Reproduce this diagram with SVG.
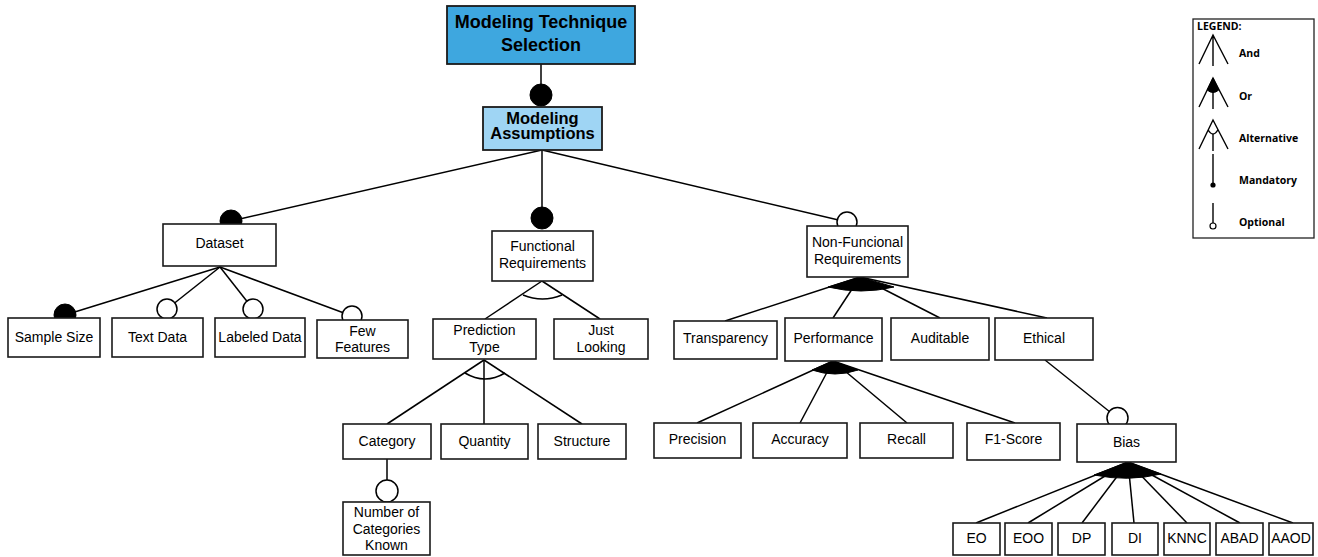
<svg xmlns="http://www.w3.org/2000/svg" width="1318" height="557" viewBox="0 0 1318 557">
<style>
.box{fill:#fff;stroke:#1a1a1a;stroke-width:1.6}
.ln{stroke:#000;stroke-width:1.5;fill:none}
.t{font-family:"Liberation Sans",Arial,sans-serif;font-size:14px;text-anchor:middle;fill:#000}
.tb{font-family:"Liberation Sans",Arial,sans-serif;font-weight:bold;text-anchor:middle;fill:#000}
.mand{fill:#000;stroke:#000;stroke-width:1}
.opt{fill:#fff;stroke:#000;stroke-width:1.5}
.sec{fill:#000;stroke:#000;stroke-width:1}
.lg{font-family:"Open Sans","Liberation Sans",sans-serif;font-weight:bold;font-size:10.5px;fill:#000}
.lgl{stroke:#000;stroke-width:1.4;fill:none}
</style>
<rect width="1318" height="557" fill="#fff"/>
<g id="connectors">
<line class="ln" x1="541" y1="64" x2="541" y2="95"/>
<line class="ln" x1="542" y1="150" x2="231" y2="221"/>
<line class="ln" x1="542" y1="150" x2="542" y2="218"/>
<line class="ln" x1="542" y1="150" x2="847" y2="222"/>
<line class="ln" x1="220" y1="267" x2="65" y2="315"/>
<line class="ln" x1="220" y1="267" x2="167" y2="309"/>
<line class="ln" x1="220" y1="267" x2="253" y2="309"/>
<line class="ln" x1="220" y1="267" x2="352" y2="316"/>
<line class="ln" x1="542" y1="281" x2="485" y2="319"/>
<line class="ln" x1="542" y1="281" x2="600" y2="319"/>
<path class="ln" stroke-width="1.2" d="M523,295 Q542.5,303 562,295"/>
<line class="ln" x1="484" y1="360" x2="387" y2="424"/>
<line class="ln" x1="484" y1="360" x2="484" y2="424"/>
<line class="ln" x1="484" y1="360" x2="582" y2="424"/>
<path class="ln" stroke-width="1.2" d="M465,373 Q485,385 505,373"/>
<line class="ln" x1="387" y1="459" x2="387" y2="491"/>
<line class="ln" x1="860" y1="277" x2="725" y2="321"/>
<line class="ln" x1="860" y1="277" x2="833" y2="318"/>
<line class="ln" x1="860" y1="277" x2="940" y2="318"/>
<line class="ln" x1="860" y1="277" x2="1047" y2="318"/>
<path class="sec" d="M860,277 L828,287 Q861,295 894,287 Z"/>
<line class="ln" x1="833" y1="361" x2="697" y2="423"/>
<line class="ln" x1="833" y1="361" x2="800" y2="423"/>
<line class="ln" x1="833" y1="361" x2="907" y2="423"/>
<line class="ln" x1="833" y1="361" x2="1015" y2="423"/>
<path class="sec" d="M833,361 L812,370 Q835,378 858,370 Z"/>
<line class="ln" x1="1045" y1="360" x2="1117.5" y2="418"/>
<line class="ln" x1="1128" y1="462" x2="976" y2="523"/>
<line class="ln" x1="1128" y1="462" x2="1028" y2="523"/>
<line class="ln" x1="1128" y1="462" x2="1082" y2="523"/>
<line class="ln" x1="1128" y1="462" x2="1134" y2="523"/>
<line class="ln" x1="1128" y1="462" x2="1187" y2="523"/>
<line class="ln" x1="1128" y1="462" x2="1240" y2="523"/>
<line class="ln" x1="1128" y1="462" x2="1293" y2="523"/>
<path class="sec" d="M1128,462 L1094,475 Q1128,482 1161,474 Z"/>
<circle class="mand" cx="541" cy="95" r="11"/>
<circle class="mand" cx="231" cy="221" r="11"/>
<circle class="mand" cx="542" cy="218" r="11"/>
<circle class="opt" cx="847" cy="222" r="10"/>
<circle class="mand" cx="65" cy="315" r="11"/>
<circle class="opt" cx="167" cy="309" r="10"/>
<circle class="opt" cx="253" cy="309" r="10"/>
<circle class="opt" cx="352" cy="316" r="10"/>
<circle class="opt" cx="387" cy="491" r="11"/>
<circle class="opt" cx="1117.5" cy="418" r="10.5"/>
</g>
<g id="root"><rect x="447" y="6" width="188" height="58" fill="#3ea7df" stroke="#1a1a1a" stroke-width="1.8"/><text class="tb" font-size="18" x="541" y="28">Modeling Technique</text><text class="tb" font-size="18" x="541" y="51">Selection</text></g>
<g id="assumptions"><rect x="483" y="107" width="119" height="43" fill="#9fd5f4" stroke="#1a1a1a" stroke-width="1.8"/><text class="tb" font-size="16.5" x="542.5" y="124">Modeling</text><text class="tb" font-size="16.5" x="542.5" y="139">Assumptions</text></g>
<g id="dataset"><rect class="box" x="163" y="224" width="113" height="42"/><text class="t" x="219.5" y="248">Dataset</text></g>
<g id="functional"><rect class="box" x="492" y="231" width="101" height="50"/><text class="t" x="542.5" y="251">Functional</text><text class="t" x="542.5" y="268">Requirements</text></g>
<g id="nonfunctional"><rect class="box" x="807" y="226" width="101" height="51"/><text class="t" x="857.5" y="247">Non-Funcional</text><text class="t" x="857.5" y="264">Requirements</text></g>
<g id="samplesize"><rect class="box" x="8" y="318" width="92" height="39"/><text class="t" x="54" y="342">Sample Size</text></g>
<g id="textdata"><rect class="box" x="112" y="318" width="91" height="39"/><text class="t" x="157.5" y="342">Text Data</text></g>
<g id="labeleddata"><rect class="box" x="215" y="318" width="90" height="39"/><text class="t" x="260" y="342">Labeled Data</text></g>
<g id="fewfeatures"><rect class="box" x="317" y="320" width="91" height="38"/><text class="t" x="362.5" y="336">Few</text><text class="t" x="362.5" y="352">Features</text></g>
<g id="predictiontype"><rect class="box" x="433" y="319" width="103" height="40"/><text class="t" x="484.5" y="335">Prediction</text><text class="t" x="484.5" y="352">Type</text></g>
<g id="justlooking"><rect class="box" x="554" y="319" width="94" height="40"/><text class="t" x="601" y="335">Just</text><text class="t" x="601" y="352">Looking</text></g>
<g id="category"><rect class="box" x="343" y="424" width="88" height="35"/><text class="t" x="387" y="446">Category</text></g>
<g id="quantity"><rect class="box" x="441" y="424" width="87" height="35"/><text class="t" x="484.5" y="446">Quantity</text></g>
<g id="structure"><rect class="box" x="538" y="424" width="88" height="35"/><text class="t" x="582" y="446">Structure</text></g>
<g id="numcategories"><rect class="box" x="343" y="502" width="87" height="53"/><text class="t" x="386.5" y="517">Number of</text><text class="t" x="386.5" y="534">Categories</text><text class="t" x="386.5" y="550">Known</text></g>
<g id="transparency"><rect class="box" x="674" y="321" width="103" height="38"/><text class="t" x="725.5" y="343">Transparency</text></g>
<g id="performance"><rect class="box" x="785" y="318" width="97" height="43"/><text class="t" x="833.5" y="343">Performance</text></g>
<g id="auditable"><rect class="box" x="891" y="318" width="98" height="42"/><text class="t" x="940" y="343">Auditable</text></g>
<g id="ethical"><rect class="box" x="995" y="318" width="98" height="42"/><text class="t" x="1044" y="343">Ethical</text></g>
<g id="precision"><rect class="box" x="654" y="423" width="87" height="35"/><text class="t" x="697.5" y="444">Precision</text></g>
<g id="accuracy"><rect class="box" x="753" y="423" width="94" height="35"/><text class="t" x="800" y="444">Accuracy</text></g>
<g id="recall"><rect class="box" x="860" y="423" width="93" height="35"/><text class="t" x="906.5" y="444">Recall</text></g>
<g id="f1score"><rect class="box" x="967" y="423" width="93" height="37"/><text class="t" x="1013.5" y="444">F1-Score</text></g>
<g id="bias"><rect class="box" x="1077" y="424" width="99" height="38"/><text class="t" x="1126.5" y="447">Bias</text></g>
<g id="eo"><rect class="box" x="953" y="523" width="47" height="32"/><text class="t" x="976.5" y="543">EO</text></g>
<g id="eoo"><rect class="box" x="1005" y="523" width="47" height="32"/><text class="t" x="1028.5" y="543">EOO</text></g>
<g id="dp"><rect class="box" x="1058" y="523" width="47" height="32"/><text class="t" x="1081.5" y="543">DP</text></g>
<g id="di"><rect class="box" x="1112" y="523" width="46" height="32"/><text class="t" x="1135" y="543">DI</text></g>
<g id="knnc"><rect class="box" x="1164" y="523" width="46" height="32"/><text class="t" x="1187" y="543">KNNC</text></g>
<g id="abad"><rect class="box" x="1216" y="523" width="47" height="32"/><text class="t" x="1239.5" y="543">ABAD</text></g>
<g id="aaod"><rect class="box" x="1269" y="523" width="44" height="32"/><text class="t" x="1291" y="543">AAOD</text></g>
<g id="legend">
<rect x="1193" y="19" width="121" height="219" fill="#fff" stroke="#222" stroke-width="1.3"/>
<text class="lg" x="1197" y="30" font-size="8.5">LEGEND:</text>
<path class="lgl" d="M1199,64 L1213,35 L1228,64 M1213,35 L1213,66"/>
<text class="lg" x="1239" y="57">And</text>
<path class="lgl" d="M1199,107 L1213,78 L1228,107 M1213,78 L1213,109"/>
<path class="sec" d="M1213,78 L1207.2,90 Q1213,95 1218.8,90 Z"/>
<text class="lg" x="1239" y="100">Or</text>
<path class="lgl" d="M1199,149 L1213,120 L1228,149 M1208.2,130 Q1213,138 1217.8,130 M1213,134 L1213,151"/>
<text class="lg" x="1239" y="142">Alternative</text>
<path class="lgl" d="M1213,154 L1213,185"/>
<circle cx="1213" cy="185" r="2.6" fill="#000"/>
<text class="lg" x="1239" y="184">Mandatory</text>
<path class="lgl" d="M1213,203 L1213,223"/>
<circle cx="1213" cy="226" r="3" fill="#fff" stroke="#000" stroke-width="1.2"/>
<text class="lg" x="1239" y="226">Optional</text>
</g>
</svg>
